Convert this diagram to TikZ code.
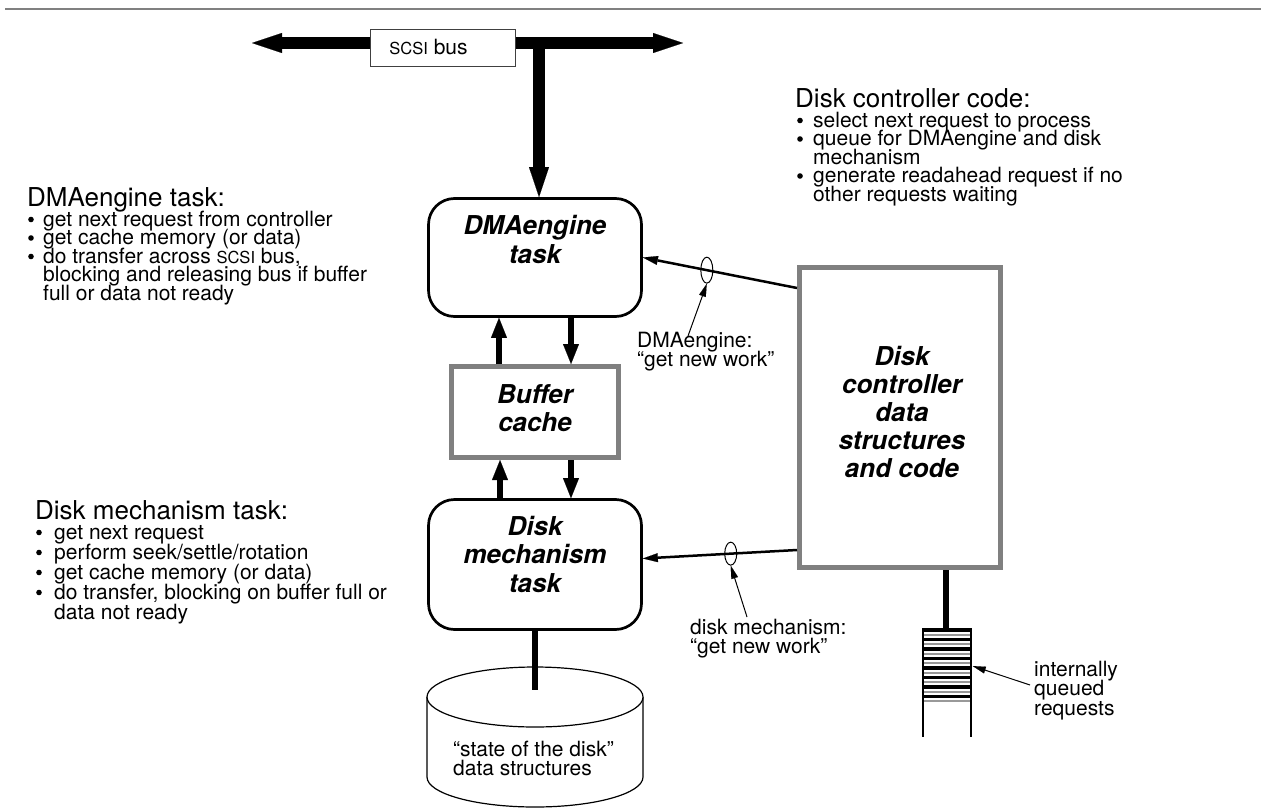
\documentclass[tikz,border=0pt]{standalone}
\usepackage{fontspec}
\setmainfont{TeX Gyre Heros}
\usetikzlibrary{arrows.meta,calc,shapes.geometric}
\newcommand{\ScsiSC}{{\fontsize{16.5}{16.5}\selectfont SCSI}}
\newcommand{\Stack}[2]{\vtop{\baselineskip=#1\lineskiplimit=-100pt\lineskip=0pt\relax #2}}
\begin{document}
\begin{tikzpicture}[x=1pt,y=-1pt,
  headtxt/.style={inner sep=0pt,anchor=base west,font=\fontsize{26}{28}\selectfont},
  lsttxt/.style={inner sep=0pt,anchor=base west,font=\fontsize{21}{18}\selectfont},
  boxtxt/.style={inner sep=0pt,anchor=base},
  roundbox/.style={draw,line width=2.7pt,rounded corners=26pt,inner sep=0pt,fill=white},
  graybox/.style={draw=black!50,line width=5pt,inner sep=0pt,fill=white},
  busline/.style={line width=12pt,-{Triangle[length=30pt,width=20pt,line width=0.1pt]}},
  midarrow/.style={line width=6pt,-{Triangle[length=20pt,width=16pt,line width=0.1pt]}},
  workarrow/.style={line width=2.5pt,-{Triangle[length=15pt,width=9pt,line width=0.1pt]}},
  labarrow/.style={line width=1pt,-{Triangle[length=13pt,width=7pt,line width=0.1pt]}},
  ovalmark/.style={ellipse,draw,line width=1pt,inner sep=0pt,minimum width=12pt},
  stemline/.style={line width=6pt},
  bulletdot/.style={fill=black},
]
\useasboundingbox (0,0) rectangle (1265,808);
\draw[line width=2.5pt,black!50] (5,9) -- (1261,9);

% ---------- SCSI bus ----------
\coordinate (busL) at (252,43);
\coordinate (busR) at (683,43);
\coordinate (busT) at (539,43);
\node[draw=black!75,line width=1pt,fill=white,minimum width=145pt,minimum height=36pt,inner sep=0pt] (scsi) at (442.5,48) {};
\node[inner sep=0pt,font=\fontsize{21}{21}\selectfont] (scsit) at (428.5,47) {\ScsiSC\ bus};
\draw[busline] (scsi.west |- busL) -- (busL);
\draw[busline] (scsi.east |- busR) -- (busR);

% ---------- boxes ----------
\node[roundbox,minimum width=213pt,minimum height=118pt] (dma) at (535,257.5) {};
\node[graybox,minimum width=167pt,minimum height=91pt] (buf) at (535,412) {};
\node[roundbox,minimum width=213pt,minimum height=130pt] (mech) at (535,564.5) {};
\node[graybox,minimum width=201pt,minimum height=300pt] (ctrl) at (900,417.5) {};

\draw[busline] (busT) -- (busT |- dma.north);

\node[boxtxt,font=\fontsize{26}{29}\selectfont\bfseries\itshape] (dmat) at (535,234)
  {\begin{tabular}[t]{@{}c@{}}DMAengine\\task\end{tabular}};
\node[boxtxt,font=\fontsize{26}{28}\selectfont\bfseries\itshape] (buft) at (535,403)
  {\begin{tabular}[t]{@{}c@{}}Buffer\\cache\end{tabular}};
\node[boxtxt,font=\fontsize{26}{28.5}\selectfont\bfseries\itshape] (mecht) at (535,535)
  {\begin{tabular}[t]{@{}c@{}}Disk\\mechanism\\task\end{tabular}};
\node[boxtxt,font=\fontsize{26}{28}\selectfont\bfseries\itshape] (ctrlt) at (902,365)
  {\begin{tabular}[t]{@{}c@{}}Disk\\controller\\data\\structures\\and code\end{tabular}};

% ---------- arrows between boxes ----------
\draw[midarrow] ([xshift=-36pt]buf.north) -- ([xshift=-36pt]dma.south);
\draw[midarrow] ([xshift=36pt]dma.south) -- ([xshift=36pt]buf.north);
\draw[midarrow] ([xshift=-35pt]mech.north) -- ([xshift=-35pt]buf.south);
\draw[midarrow] ([xshift=36pt]buf.south) -- ([xshift=36pt]mech.north);

% ---------- get new work ----------
\coordinate (s1) at ($(ctrl.north west)+(0,23)$);
\coordinate (s2) at ($(ctrl.south west)+(0,-20)$);
\draw[workarrow] (s1) -- node[pos=0.585,ovalmark,minimum height=26pt] (e1) {} (dma.east);
\draw[workarrow] (s2) -- node[pos=0.43,ovalmark,minimum height=23pt] (e2) {} ([yshift=6pt]mech.east);

\node[lsttxt] (lab1) at (637,347)
  {\Stack{19.5pt}{\hbox{DMAengine:}\hbox{“get new work”}}};
\node[lsttxt] (lab2) at (690,634)
  {\Stack{19.5pt}{\hbox{disk mechanism:}\hbox{“get new work”}}};
\coordinate (c1) at (688,336);
\coordinate (c2) at (747,617);
\draw[labarrow] (c1) -- (e1.south);
\draw[labarrow] (c2) -- (e2.south);

% ---------- disk state cylinder ----------
\draw[line width=1.2pt,fill=white] (427,697) -- (427,777)
  .. controls (427,793.6) and (475.4,807) .. (535,807)
  .. controls (594.6,807) and (643,793.6) .. (643,777) -- (643,697);
\draw[line width=1.2pt,fill=white] (535,697) ellipse [x radius=108pt,y radius=30pt];
\coordinate (diskTop) at (535,690);
\draw[stemline] (mech.south) -- (diskTop);
\node[lsttxt] (cylt) at (453,756)
  {\Stack{19.5pt}{\hbox{“state of the disk”}\hbox{data structures}}};

% ---------- queue ----------
\node[inner sep=0pt,minimum width=48pt,minimum height=109pt] (queue) at (947,682.5) {};
\coordinate (qtop) at (946,628);
\draw[line width=5.5pt] (qtop |- ctrl.south) -- (qtop);
\foreach \i in {0,...,7}{
  \draw[line width=2pt,black!40] (923,634.8+9.5*\i) -- (971,634.8+9.5*\i);
  \draw[line width=3.3pt] (923,630+9.5*\i) -- (971,630+9.5*\i);
}
\draw[line width=2.7pt] (923,628) -- (923,737);
\draw[line width=2.7pt] (971,628) -- (971,737);
\coordinate (c3) at (1030,685);
\draw[labarrow] (c3) -- ([yshift=16.5pt,xshift=1.5pt]queue.east);
\node[lsttxt] (lab3) at (1034,676)
  {\Stack{19.5pt}{\hbox{internally}\hbox{queued}\hbox{requests}}};

% ---------- text blocks ----------
\node[headtxt] (dmah) at (27,206) {DMAengine task:};
\node[lsttxt] (dmal) at (43,226)
  {\Stack{18.5pt}{%
   \hbox{get next request from controller}%
   \hbox{get cache memory (or data)}%
   \hbox{do transfer across \ScsiSC\ bus,}%
   \hbox{blocking and releasing bus if buffer}%
   \hbox{full or data not ready}}};
\foreach \b in {226,244.5,263} \fill[bulletdot] (31,\b-6.5) circle[radius=2.8pt];

\node[headtxt] (ctrlh) at (795,107) {Disk controller code:};
\node[lsttxt] (ctrll) at (813,127)
  {\Stack{18.5pt}{%
   \hbox{select next request to process}%
   \hbox{queue for DMAengine and disk}%
   \hbox{mechanism}%
   \hbox{generate readahead request if no}%
   \hbox{other requests waiting}}};
\foreach \b in {127,145.5,182.5} \fill[bulletdot] (800,\b-6.5) circle[radius=2.8pt];

\node[headtxt] (mechh) at (35,519) {Disk mechanism task:};
\node[lsttxt] (mechl) at (54,539)
  {\Stack{20pt}{%
   \hbox{get next request}%
   \hbox{perform seek/settle/rotation}%
   \hbox{get cache memory (or data)}%
   \hbox{do transfer, blocking on buffer full or}%
   \hbox{data not ready}}};
\foreach \b in {539,559,579,599} \fill[bulletdot] (39,\b-6.5) circle[radius=2.8pt];
\end{tikzpicture}
\end{document}
